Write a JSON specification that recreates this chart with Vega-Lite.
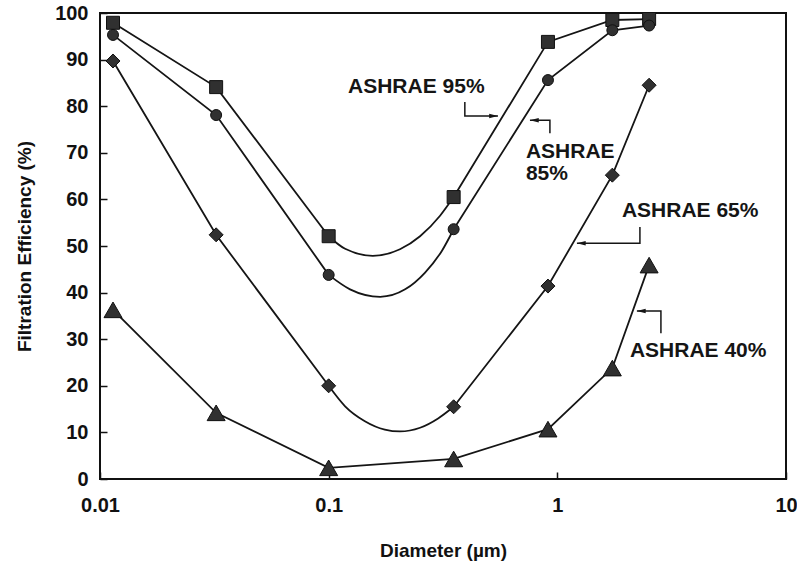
{
  "$schema": "https://vega.github.io/schema/vega-lite/v6.json",
  "width": 686,
  "height": 466,
  "autosize": {"type": "none"},
  "padding": {"left": 100, "top": 13, "right": 11, "bottom": 86},
  "background": "white",
  "config": {
    "view": {"stroke": "#111", "strokeWidth": 2},
    "font": "Liberation Sans",
    "axis": {
      "domain": false,
      "grid": false,
      "tickColor": "#111",
      "tickWidth": 1.5,
      "tickSize": -7,
      "labelFont": "Liberation Sans",
      "labelFontWeight": "bold",
      "labelFontSize": 20,
      "labelColor": "#111",
      "titleFont": "Liberation Sans",
      "titleFontWeight": "bold",
      "titleFontSize": 19,
      "titleColor": "#111"
    }
  },
  "datasets": {
    "pts": [
      {"s": "95", "d": 0.0114, "e": 97.9, "g": "L", "m": true},
      {"s": "95", "d": 0.0322, "e": 84.1, "g": "L", "m": true},
      {"s": "95", "d": 0.1, "e": 52.1, "g": "L", "m": true},
      {"s": "95", "d": 0.118, "e": 49.4, "g": "C", "m": false},
      {"s": "95", "d": 0.156, "e": 47.9, "g": "C", "m": false},
      {"s": "95", "d": 0.205, "e": 49.3, "g": "C", "m": false},
      {"s": "95", "d": 0.251, "e": 52.1, "g": "C", "m": false},
      {"s": "95", "d": 0.307, "e": 56.5, "g": "C", "m": false},
      {"s": "95", "d": 0.352, "e": 60.5, "g": "R", "m": true},
      {"s": "95", "d": 0.91, "e": 93.8, "g": "R", "m": true},
      {"s": "95", "d": 1.74, "e": 98.5, "g": "R", "m": true},
      {"s": "95", "d": 2.52, "e": 98.7, "g": "R", "m": true},
      {"s": "85", "d": 0.0114, "e": 95.3, "g": "L", "m": true},
      {"s": "85", "d": 0.0322, "e": 78.1, "g": "L", "m": true},
      {"s": "85", "d": 0.1, "e": 43.8, "g": "L", "m": true},
      {"s": "85", "d": 0.124, "e": 40.7, "g": "C", "m": false},
      {"s": "85", "d": 0.168, "e": 39.1, "g": "C", "m": false},
      {"s": "85", "d": 0.216, "e": 40.7, "g": "C", "m": false},
      {"s": "85", "d": 0.264, "e": 44.3, "g": "C", "m": false},
      {"s": "85", "d": 0.313, "e": 49.0, "g": "C", "m": false},
      {"s": "85", "d": 0.352, "e": 53.6, "g": "R", "m": true},
      {"s": "85", "d": 0.91, "e": 85.6, "g": "R", "m": true},
      {"s": "85", "d": 1.74, "e": 96.3, "g": "R", "m": true},
      {"s": "85", "d": 2.52, "e": 97.3, "g": "R", "m": true},
      {"s": "65", "d": 0.0114, "e": 89.7, "g": "L", "m": true},
      {"s": "65", "d": 0.0322, "e": 52.4, "g": "L", "m": true},
      {"s": "65", "d": 0.1, "e": 20.0, "g": "L", "m": true},
      {"s": "65", "d": 0.118, "e": 15.6, "g": "C", "m": false},
      {"s": "65", "d": 0.144, "e": 12.4, "g": "C", "m": false},
      {"s": "65", "d": 0.176, "e": 10.6, "g": "C", "m": false},
      {"s": "65", "d": 0.205, "e": 10.2, "g": "C", "m": false},
      {"s": "65", "d": 0.251, "e": 11.0, "g": "C", "m": false},
      {"s": "65", "d": 0.301, "e": 13.0, "g": "C", "m": false},
      {"s": "65", "d": 0.352, "e": 15.5, "g": "R", "m": true},
      {"s": "65", "d": 0.91, "e": 41.4, "g": "R", "m": true},
      {"s": "65", "d": 1.74, "e": 65.2, "g": "R", "m": true},
      {"s": "65", "d": 2.52, "e": 84.5, "g": "R", "m": true},
      {"s": "40", "d": 0.0114, "e": 36.3, "g": "L", "m": true},
      {"s": "40", "d": 0.0322, "e": 14.2, "g": "L", "m": true},
      {"s": "40", "d": 0.1, "e": 2.4, "g": "L", "m": true},
      {"s": "40", "d": 0.352, "e": 4.3, "g": "L", "m": true},
      {"s": "40", "d": 0.91, "e": 10.7, "g": "L", "m": true},
      {"s": "40", "d": 1.74, "e": 23.8, "g": "L", "m": true},
      {"s": "40", "d": 2.52, "e": 45.9, "g": "L", "m": true}
    ],
    "callouts": [
      {"id": "b95", "o": 1, "d": 0.394, "e": 80.9},
      {"id": "b95", "o": 2, "d": 0.394, "e": 77.9},
      {"id": "b95", "o": 3, "d": 0.55, "e": 77.9},
      {"id": "b85", "o": 1, "d": 0.928, "e": 74.2},
      {"id": "b85", "o": 2, "d": 0.928, "e": 77.0},
      {"id": "b85", "o": 3, "d": 0.759, "e": 77.0},
      {"id": "b65", "o": 1, "d": 2.297, "e": 54.1},
      {"id": "b65", "o": 2, "d": 2.297, "e": 50.6},
      {"id": "b65", "o": 3, "d": 1.218, "e": 50.6},
      {"id": "b40", "o": 1, "d": 2.838, "e": 31.3},
      {"id": "b40", "o": 2, "d": 2.838, "e": 36.05},
      {"id": "b40", "o": 3, "d": 2.228, "e": 36.05}
    ],
    "arrows": [
      {"dir": "right", "d": 0.55, "e": 77.9},
      {"dir": "left", "d": 0.759, "e": 77.0},
      {"dir": "left", "d": 1.218, "e": 50.6},
      {"dir": "left", "d": 2.228, "e": 36.05}
    ],
    "notes": [
      {"t": "ASHRAE 95%", "d": 0.1215, "e": 82.8},
      {"t": "ASHRAE", "d": 0.729, "e": 68.9},
      {"t": "85%", "d": 0.729, "e": 64.2},
      {"t": "ASHRAE 65%", "d": 1.916, "e": 56.2},
      {"t": "ASHRAE 40%", "d": 2.077, "e": 26.2}
    ]
  },
  "resolve": {"scale": {"shape": "independent"}},
  "layer": [
    {
      "data": {"name": "pts"},
      "transform": [{"filter": "datum.g != 'C'"}],
      "mark": {"type": "line", "interpolate": "linear", "color": "#151515", "strokeWidth": 1.8},
      "encoding": {
        "x": {
          "field": "d", "type": "quantitative",
          "scale": {"type": "log", "domain": [0.01, 10]},
          "axis": {"values": [0.01, 0.1, 1, 10], "format": "~g", "labelFlush": false, "labelPadding": 23, "title": "Diameter (µm)", "titlePadding": 26}
        },
        "y": {
          "field": "e", "type": "quantitative",
          "scale": {"domain": [0, 100]},
          "axis": {"values": [0, 10, 20, 30, 40, 50, 60, 70, 80, 90, 100], "labelPadding": 19, "title": "Filtration Efficiency (%)", "titlePadding": 20}
        },
        "detail": [{"field": "s"}, {"field": "g"}],
        "order": {"field": "d", "type": "quantitative"}
      }
    },
    {
      "data": {"name": "pts"},
      "transform": [{"filter": "datum.s != '40' && datum.d >= 0.1 && datum.d <= 0.352"}],
      "mark": {"type": "line", "interpolate": "monotone", "color": "#151515", "strokeWidth": 1.8},
      "encoding": {
        "x": {"field": "d", "type": "quantitative"},
        "y": {"field": "e", "type": "quantitative"},
        "detail": {"field": "s"},
        "order": {"field": "d", "type": "quantitative"}
      }
    },
    {
      "data": {"name": "pts"},
      "transform": [{"filter": "datum.m"}],
      "mark": {"type": "point", "filled": true, "fill": "#303030", "stroke": "#111", "strokeWidth": 1, "opacity": 1, "size": 100},
      "encoding": {
        "x": {"field": "d", "type": "quantitative"},
        "y": {"field": "e", "type": "quantitative"},
        "shape": {"field": "s", "type": "nominal", "scale": {"domain": ["95", "85", "65", "40"], "range": ["M-1.3,-1.3H1.3V1.3H-1.3Z", "M-1.1,0A1.1,1.1,0,1,1,1.1,0A1.1,1.1,0,1,1,-1.1,0Z", "M0,-1.4L1.4,0L0,1.4L-1.4,0Z", "M0,-1.56L1.8,1.56L-1.8,1.56Z"]}, "legend": null}
      }
    },
    {
      "data": {"name": "callouts"},
      "mark": {"type": "line", "color": "#151515", "strokeWidth": 1.5},
      "encoding": {
        "x": {"field": "d", "type": "quantitative"},
        "y": {"field": "e", "type": "quantitative"},
        "detail": {"field": "id"},
        "order": {"field": "o", "type": "quantitative"}
      }
    },
    {
      "data": {"name": "arrows"},
      "mark": {"type": "point", "filled": true, "fill": "#151515", "strokeWidth": 0, "opacity": 1, "size": 64},
      "encoding": {
        "x": {"field": "d", "type": "quantitative"},
        "y": {"field": "e", "type": "quantitative"},
        "shape": {"field": "dir", "type": "nominal", "scale": {"domain": ["right", "left"], "range": ["M0,0L-2.2,-0.55L-2.2,0.55Z", "M0,0L2.2,-0.55L2.2,0.55Z"]}, "legend": null}
      }
    },
    {
      "data": {"name": "notes"},
      "mark": {"type": "text", "align": "left", "baseline": "alphabetic", "fontSize": 21, "fontWeight": "bold", "font": "Liberation Sans", "color": "#151515"},
      "encoding": {
        "x": {"field": "d", "type": "quantitative"},
        "y": {"field": "e", "type": "quantitative"},
        "text": {"field": "t"}
      }
    }
  ]
}
